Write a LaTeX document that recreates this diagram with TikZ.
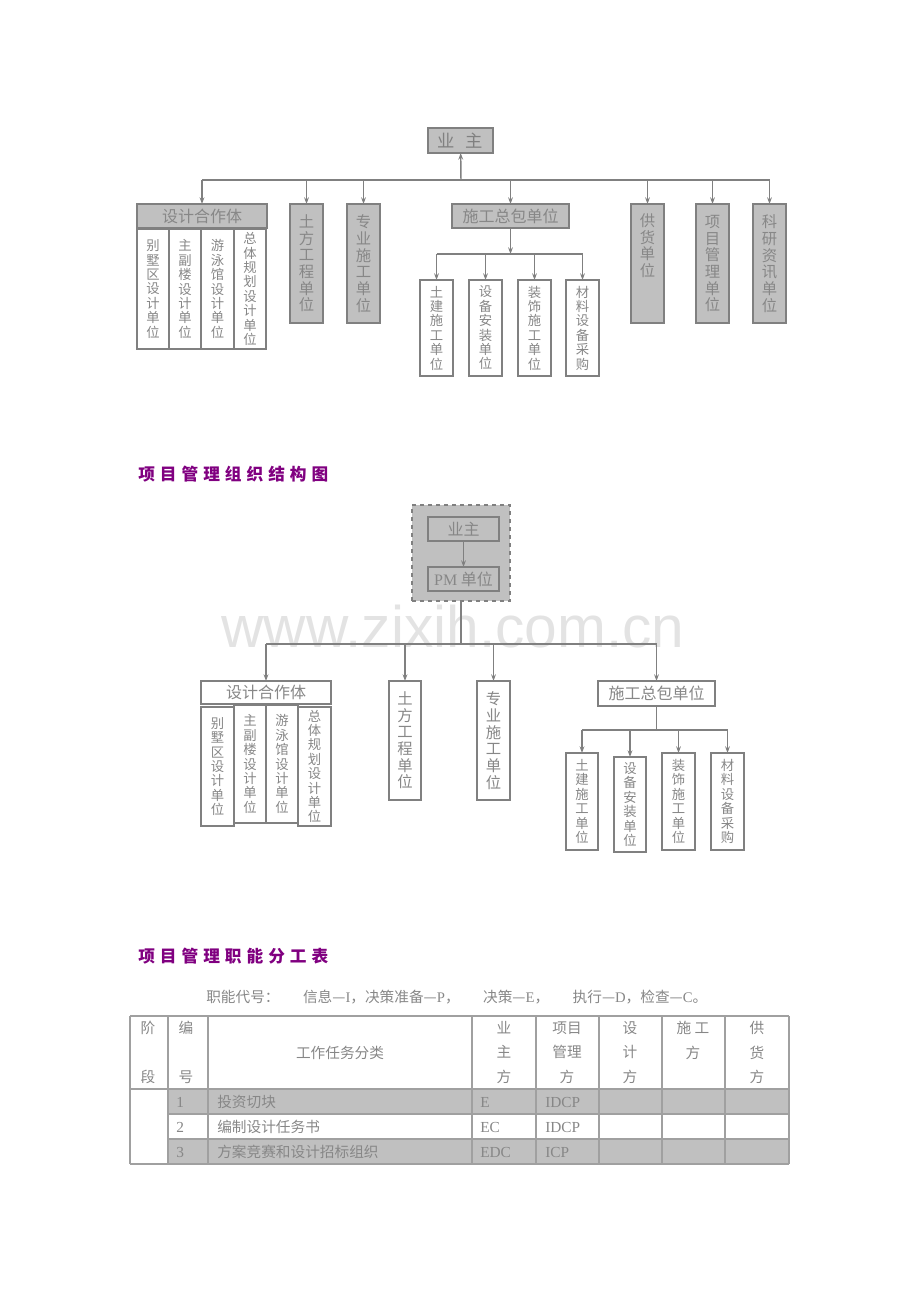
\documentclass[tikz,border=0pt]{standalone}
\usepackage{fontspec}
\setmainfont{Noto Sans CJK SC}
\newfontfamily\latinfont{Liberation Serif}
\newfontfamily\headfont[LetterSpace=30]{Noto Sans CJK SC}
\newfontfamily\markfont{Liberation Sans}
\usetikzlibrary{arrows.meta,positioning}

\definecolor{boxgray}{HTML}{C0C0C0}
\definecolor{linegray}{HTML}{808080}
\definecolor{textgray}{HTML}{878787}
\definecolor{headpurple}{HTML}{800080}
\definecolor{markgray}{HTML}{E3E3E3}
\definecolor{tablegray}{HTML}{A0A0A0}

\newcommand{\px}{0.75pt}

\tikzset{
  unit/.style={draw=linegray, line width=1.1pt, text=textgray, inner sep=0pt, outer sep=0pt, align=center},
  grayunit/.style={unit, fill=boxgray},
  whiteunit/.style={unit, fill=white},
  hbox/.style={font=\fontsize{12}{14}\selectfont},
  vbig/.style={font=\fontsize{11.5}{12.5}\selectfont},
  vsmall/.style={font=\fontsize{10}{10.8}\selectfont},
  link/.style={draw=linegray, line width=1.1pt},
  arr/.style={link, -{Stealth[length=5pt, width=3.6pt]}},
  headtitle/.style={anchor=west, inner sep=0pt, text=headpurple, font=\headfont\bfseries\fontsize{12.5}{14}\selectfont},
  cell/.style={inner sep=0pt, text=textgray, font=\fontsize{11}{12}\selectfont},
  latcell/.style={cell, anchor=west, font=\latinfont\fontsize{11.5}{12}\selectfont},
  headcell/.style={cell, align=center, font=\fontsize{11}{18.4}\selectfont},
  tableline/.style={draw=tablegray, line width=0.9pt},
}

\begin{document}
\begin{tikzpicture}[x=0.75pt, y=-0.75pt]
  \useasboundingbox (0,0) rectangle (920,1302);

  % Watermark
  \node (mark) [anchor=base, text=markgray, font=\markfont\fontsize{44}{50}\selectfont, inner sep=0pt] at (453,647) {www.zixih.com.cn};

  % ---- First chart ----
  \node (owner1) [grayunit, minimum width=65*\px, minimum height=25*\px, text=linegray, font=\fontsize{13}{14}\selectfont] at (460.5,140.5) {业\hspace{0.6em}主};

  \node (design1) [grayunit, hbox, minimum width=130*\px, minimum height=24*\px] at (202,216) {设计合作体};
  \node (villa1) [whiteunit, vsmall, minimum width=32*\px, minimum height=120*\px] at (153,289) {别\\墅\\区\\设\\计\\单\\位};
  \node (mainb1) [whiteunit, vsmall, minimum width=32*\px, minimum height=120*\px] at (185,289) {主\\副\\楼\\设\\计\\单\\位};
  \node (pool1) [whiteunit, vsmall, minimum width=33*\px, minimum height=120*\px] at (217.5,289) {游\\泳\\馆\\设\\计\\单\\位};
  \node (plan1) [whiteunit, vsmall, minimum width=32*\px, minimum height=120*\px] at (250,289) {总\\体\\规\\划\\设\\计\\单\\位};

  \node (earth1) [grayunit, vbig, minimum width=33*\px, minimum height=119*\px] at (306.5,263.5) {土\\方\\工\\程\\单\\位};
  \node (special1) [grayunit, vbig, minimum width=33*\px, minimum height=119*\px] at (363.5,263.5) {专\\业\\施\\工\\单\\位};
  \node (general1) [grayunit, hbox, minimum width=117*\px, minimum height=24*\px] at (510.5,216) {施工总包单位};
  \node (supply1) [grayunit, minimum width=33*\px, minimum height=119*\px] at (647.5,263.5) {};
  \node (supply1text) [vbig, align=center, text=textgray, inner sep=0pt, below=7pt of supply1.north] {供\\货\\单\\位};
  \node (pm1) [grayunit, vbig, minimum width=33*\px, minimum height=119*\px] at (712.5,263.5) {项\\目\\管\\理\\单\\位};
  \node (research1) [grayunit, vbig, minimum width=33*\px, minimum height=119*\px] at (769.5,263.5) {科\\研\\资\\讯\\单\\位};

  \node (civil1) [whiteunit, vsmall, minimum width=33*\px, minimum height=96*\px] at (436.5,328) {土\\建\\施\\工\\单\\位};
  \node (install1) [whiteunit, vsmall, minimum width=33*\px, minimum height=96*\px] at (485.5,328) {设\\备\\安\\装\\单\\位};
  \node (decor1) [whiteunit, vsmall, minimum width=33*\px, minimum height=96*\px] at (534.5,328) {装\\饰\\施\\工\\单\\位};
  \node (purchase1) [whiteunit, vsmall, minimum width=33*\px, minimum height=96*\px] at (582.5,328) {材\\料\\设\\备\\采\\购};

  \coordinate (bus1) at (461,180);
  \coordinate (bus2) at (510.5,254);
  \draw[arr] (bus1) -- (owner1);
  \draw[link] (design1.north |- bus1) -- (research1.north |- bus1);
  \foreach \n in {design1,earth1,special1,general1,supply1,pm1,research1}
    \draw[arr] (\n.north |- bus1) -- (\n);
  \draw[arr] (general1) -- (bus2);
  \draw[link] (civil1.north |- bus2) -- (purchase1.north |- bus2);
  \foreach \n in {civil1,install1,decor1,purchase1}
    \draw[arr] (\n.north |- bus2) -- (\n);

  % ---- Second chart ----
  \node (title2) [headtitle] at (138,474) {项目管理组织结构图};

  \node (group2) [draw=linegray, dashed, fill=boxgray, line width=1.1pt, minimum width=98*\px, minimum height=96*\px, inner sep=0pt] at (461,553) {};
  \node (owner2) [grayunit, hbox, minimum width=71*\px, minimum height=24*\px] at (463.5,529) {业主};
  \node (pmunit2) [grayunit, hbox, minimum width=71*\px, minimum height=24*\px] at (463.5,579) {{\latinfont PM} 单位};
  \draw[arr] (owner2) -- (pmunit2);

  \node (design2) [whiteunit, hbox, minimum width=130*\px, minimum height=23*\px] at (266,692.5) {设计合作体};
  \node (villa2) [whiteunit, vsmall, minimum width=33*\px, minimum height=119*\px] at (217.5,766.5) {别\\墅\\区\\设\\计\\单\\位};
  \node (mainb2) [whiteunit, vsmall, minimum width=32*\px, minimum height=118*\px] at (250,764) {主\\副\\楼\\设\\计\\单\\位};
  \node (pool2) [whiteunit, vsmall, minimum width=32*\px, minimum height=118*\px] at (282,764) {游\\泳\\馆\\设\\计\\单\\位};
  \node (plan2) [whiteunit, vsmall, minimum width=33*\px, minimum height=119*\px] at (314.5,766.5) {总\\体\\规\\划\\设\\计\\单\\位};

  \node (earth2) [whiteunit, vbig, minimum width=32*\px, minimum height=119*\px] at (405,740.5) {土\\方\\工\\程\\单\\位};
  \node (special2) [whiteunit, vbig, minimum width=33*\px, minimum height=119*\px] at (493.5,740.5) {专\\业\\施\\工\\单\\位};
  \node (general2) [whiteunit, hbox, minimum width=117*\px, minimum height=25*\px] at (656.5,693.5) {施工总包单位};

  \node (civil2) [whiteunit, vsmall, minimum width=32*\px, minimum height=97*\px] at (582,801.5) {土\\建\\施\\工\\单\\位};
  \node (install2) [whiteunit, vsmall, minimum width=32*\px, minimum height=95*\px] at (630,804.5) {设\\备\\安\\装\\单\\位};
  \node (decor2) [whiteunit, vsmall, minimum width=33*\px, minimum height=97*\px] at (678.5,801.5) {装\\饰\\施\\工\\单\\位};
  \node (purchase2) [whiteunit, vsmall, minimum width=33*\px, minimum height=97*\px] at (727.5,801.5) {材\\料\\设\\备\\采\\购};

  \coordinate (bus3) at (461,644);
  \coordinate (bus4) at (656.5,730);
  \draw[link] (group2) -- (bus3);
  \draw[link] (design2.north |- bus3) -- (general2.north |- bus3);
  \foreach \n in {design2,earth2,special2,general2}
    \draw[arr] (\n.north |- bus3) -- (\n);
  \draw[link] (general2) -- (bus4);
  \draw[link] (civil2.north |- bus4) -- (purchase2.north |- bus4);
  \foreach \n in {civil2,install2,decor2,purchase2}
    \draw[arr] (\n.north |- bus4) -- (\n);

  % ---- Table ----
  \node (title3) [headtitle] at (138,956) {项目管理职能分工表};
  \node (legend) [cell, anchor=west] at (206,997) {职能代号：\hspace{1.6em}信息—{\latinfont I}，决策准备—{\latinfont P}，\hspace{1.6em}决策—{\latinfont E}，\hspace{1.6em}执行—{\latinfont D}，检查—{\latinfont C}。};

  \fill[boxgray] (168,1089) rectangle (789,1114);
  \fill[boxgray] (168,1139) rectangle (789,1164);
  \foreach \y in {1016,1089,1164}
    \draw[tableline] (130,\y) -- (789,\y);
  \foreach \y in {1114,1139}
    \draw[tableline] (168,\y) -- (789,\y);
  \foreach \x in {130,168,208,472,536,599,662,725,789}
    \draw[tableline] (\x,1016) -- (\x,1164);

  \node (hstage) [headcell] at (148,1052.5) {阶\\[18.4pt]段};
  \node (hno) [headcell] at (186,1052.5) {编\\[18.4pt]号};
  \node (htask) [cell] at (340,1053) {工作任务分类};
  \node (howner) [headcell] at (504,1052.5) {业\\主\\方};
  \node (hpm) [headcell] at (567,1052.5) {项目\\管理\\方};
  \node (hdesign) [headcell] at (630,1052.5) {设\\计\\方};
  \node (hbuild) [headcell] at (693,1040.5) {施\ 工\\方};
  \node (hsupply) [headcell] at (757,1052.5) {供\\货\\方};

  \node (n1) [latcell] at (176,1102) {1};
  \node (task1) [cell, anchor=west] at (217,1102) {投资切块};
  \node (own1) [latcell] at (480,1102) {E};
  \node (pmc1) [latcell] at (545,1102) {IDCP};
  \node (n2) [latcell] at (176,1127) {2};
  \node (task2) [cell, anchor=west] at (217,1127) {编制设计任务书};
  \node (own2) [latcell] at (480,1127) {EC};
  \node (pmc2) [latcell] at (545,1127) {IDCP};
  \node (n3) [latcell] at (176,1152) {3};
  \node (task3) [cell, anchor=west] at (217,1152) {方案竞赛和设计招标组织};
  \node (own3) [latcell] at (480,1152) {EDC};
  \node (pmc3) [latcell] at (545,1152) {ICP};
\end{tikzpicture}
\end{document}
